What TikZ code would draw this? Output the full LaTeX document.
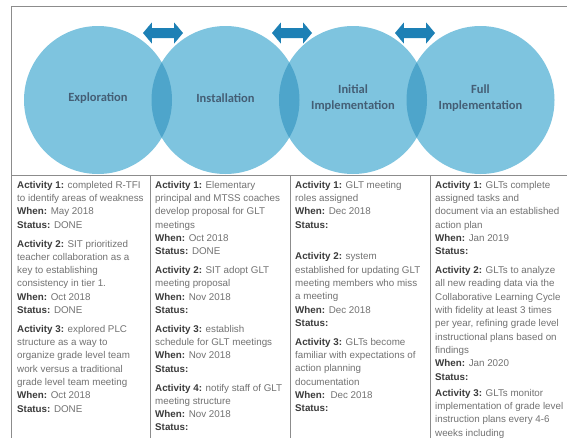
\documentclass[tikz,border=0pt]{standalone}
\usepackage{fontspec}
\setmainfont{Liberation Sans}
\newfontfamily\circfont{Carlito}
\usetikzlibrary{shapes.arrows}

\definecolor{circfill}{HTML}{7EC4DF}
\definecolor{lensfill}{HTML}{4EA5CB}
\definecolor{arrowfill}{HTML}{1D80B5}
\definecolor{circtext}{HTML}{445E75}
\definecolor{rule}{HTML}{8C8C8C}
\definecolor{bodytext}{HTML}{727272}
\definecolor{headtext}{HTML}{3C3C3C}

\newcommand\hd[1]{{\color{headtext}\bfseries #1}}

\tikzset{
  phase/.style={circle, minimum size=148pt, inner sep=0pt, fill=circfill,
    text=circtext, align=center, font=\circfont\bfseries\fontsize{12.5}{15.5}\selectfont},
  linkarrow/.style={double arrow, fill=arrowfill, draw=none, minimum height=40pt,
    inner xsep=0pt, inner ysep=4.8pt, double arrow head extend=5.5pt,
    double arrow tip angle=100},
  tablerule/.style={draw=rule, line width=0.9pt},
  cellcol/.style={anchor=north west, inner sep=0pt, align=left, text=bodytext,
    font=\fontsize{9.8}{13.3}\selectfont},
}

\begin{document}
\begin{tikzpicture}[x=1pt, y=-1pt]
  \useasboundingbox (0,0) rectangle (567,437);
  \clip (0,0) rectangle (567,437);
  \fill[white] (0,0) rectangle (567,437);

  % frame and table grid
  \coordinate (frameTL) at (11,6);
  \coordinate (frameBR) at (600,460);
  \draw[tablerule] (frameTL) rectangle (frameBR);
  \coordinate (rowL) at (11,175);
  \coordinate (rowR) at (600,175);
  \draw[tablerule] (rowL) -- (rowR);
  \foreach \x [count=\i] in {150,290,430} {
    \coordinate (sepT\i) at (\x,175);
    \coordinate (sepB\i) at (\x,460);
    \draw[tablerule] (sepT\i) -- (sepB\i);
  }

  % the four phases
  \node[phase] (c1) at (98,100)    {};
  \node[phase] (c2) at (225.5,100) {};
  \node[phase] (c3) at (353,100)   {};
  \node[phase] (c4) at (480.5,100) {};

  % overlaps between neighbouring phases
  \begin{scope}
    \clip (c1.center) circle (74pt);
    \fill[lensfill] (c2.center) circle (74pt);
  \end{scope}
  \begin{scope}
    \clip (c2.center) circle (74pt);
    \fill[lensfill] (c3.center) circle (74pt);
  \end{scope}
  \begin{scope}
    \clip (c3.center) circle (74pt);
    \fill[lensfill] (c4.center) circle (74pt);
  \end{scope}

  % phase labels
  \node[phase, fill=none, minimum size=0pt] (t1) at ([yshift=2pt]c1.center) {Exploration};
  \node[phase, fill=none, minimum size=0pt] (t2) at ([yshift=2pt]c2.center) {Installation};
  \node[phase, fill=none, minimum size=0pt] (t3) at ([yshift=2pt]c3.center) {Initial\\Implementation};
  \node[phase, fill=none, minimum size=0pt] (t4) at ([yshift=2pt]c4.center) {Full\\Implementation};

  % two-way arrows between phases
  \node[linkarrow] (a1) at (163,33) {};
  \node[linkarrow] (a2) at (292,33) {};
  \node[linkarrow] (a3) at (415,33) {};

  % activity columns
  \node[cellcol] (col1) at (17,181) {%
    \hd{Activity 1:} completed R-TFI\\
    to identify areas of weakness\\
    \hd{When:} May 2018\\
    \hd{Status:} DONE\\[5.5pt]
    \hd{Activity 2:} SIT prioritized\\
    teacher collaboration as a\\
    key to establishing\\
    consistency in tier 1.\\
    \hd{When:} Oct 2018\\
    \hd{Status:} DONE\\[5.5pt]
    \hd{Activity 3:} explored PLC\\
    structure as a way to\\
    organize grade level team\\
    work versus a traditional\\
    grade level team meeting\\
    \hd{When:} Oct 2018\\
    \hd{Status:} DONE};

  \node[cellcol] (col2) at (155,181) {%
    \hd{Activity 1:} Elementary\\
    principal and MTSS coaches\\
    develop proposal for GLT\\
    meetings\\
    \hd{When:} Oct 2018\\
    \hd{Status:} DONE\\[5.5pt]
    \hd{Activity 2:} SIT adopt GLT\\
    meeting proposal\\
    \hd{When:} Nov 2018\\
    \hd{Status:}\\[5.5pt]
    \hd{Activity 3:} establish\\
    schedule for GLT meetings\\
    \hd{When:} Nov 2018\\
    \hd{Status:}\\[5.5pt]
    \hd{Activity 4:} notify staff of GLT\\
    meeting structure\\
    \hd{When:} Nov 2018\\
    \hd{Status:}};

  \node[cellcol] (col3) at (295,181) {%
    \hd{Activity 1:} GLT meeting\\
    roles assigned\\
    \hd{When:} Dec 2018\\
    \hd{Status:}\\[18.4pt]
    \hd{Activity 2:} system\\
    established for updating GLT\\
    meeting members who miss\\
    a meeting\\
    \hd{When:} Dec 2018\\
    \hd{Status:}\\[5.5pt]
    \hd{Activity 3:} GLTs become\\
    familiar with expectations of\\
    action planning\\
    documentation\\
    \hd{When:}\ \ Dec 2018\\
    \hd{Status:}};

  \node[cellcol] (col4) at (435,181) {%
    \hd{Activity 1:} GLTs complete\\
    assigned tasks and\\
    document via an established\\
    action plan\\
    \hd{When:} Jan 2019\\
    \hd{Status:}\\[5.5pt]
    \hd{Activity 2:} GLTs to analyze\\
    all new reading data via the\\
    Collaborative Learning Cycle\\
    with fidelity at least 3 times\\
    per year, refining grade level\\
    instructional plans based on\\
    findings\\
    \hd{When:} Jan 2020\\
    \hd{Status:}\\[3pt]
    \hd{Activity 3:} GLTs monitor\\
    implementation of grade level\\
    instruction plans every 4-6\\
    weeks including};
\end{tikzpicture}
\end{document}
